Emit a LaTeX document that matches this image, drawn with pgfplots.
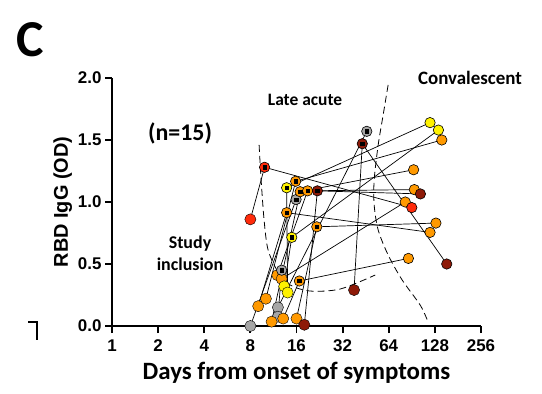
\documentclass[border=0pt]{standalone}
\usepackage{pgfplots}
\pgfplotsset{compat=1.18}
\usepackage{fontspec}
\setmainfont{Carlito}
\newfontfamily\arial{Liberation Sans}
\definecolor{cgrey}{HTML}{A6A6A6}
\definecolor{cyel}{HTML}{FFF200}
\definecolor{corg}{HTML}{FF9900}
\definecolor{cred}{HTML}{FF2B0B}
\definecolor{cdred}{HTML}{8E1A08}
\begin{document}
\begin{tikzpicture}
\useasboundingbox (0,0) rectangle (542bp,394bp);
\begin{axis}[
  at={(112bp,68bp)}, anchor=south west,
  scale only axis, width=369bp, height=248bp,
  xmode=log, log basis x=2, xmin=1, xmax=256, ymin=0, ymax=2,
  axis x line*=bottom, axis y line*=left,
  axis line style={line width=2pt, -},
  xtick={1,2,4,8,16,32,64,128,256}, xticklabels={1,2,4,8,16,32,64,128,256},
  ytick={0,0.5,1,1.5,2}, yticklabels={0.0,0.5,1.0,1.5,2.0},
  xminorticks=false, yminorticks=false,
  tick align=outside, major tick length=7bp, tick style={line width=2pt, black},
  tick label style={font=\arial\bfseries\fontsize{17}{17}\selectfont},
  xticklabel style={yshift=-3bp},
  xlabel={Days from onset of symptoms},
  xlabel style={font=\bfseries\fontsize{25}{25}\selectfont, yshift=-4bp},
  ylabel={RBD IgG (OD)},
  ylabel style={font=\arial\bfseries\fontsize{20}{20}\selectfont, yshift=-1bp},
  clip=false,
]
% dashed region borders
\addplot[black, line width=0.8pt, dash pattern=on 7bp off 4bp, smooth] coordinates {
 (9.12,1.46) (9.40,1.18) (9.83,0.855) (10.44,0.613) (12.13,0.435) (14.53,0.331) (19.63,0.282) (30.8,0.298) (52.2,0.411)};
\addplot[black, line width=0.8pt, dash pattern=on 7bp off 4bp, smooth] coordinates {
 (63.4,1.944) (58.8,1.70) (54.6,1.46) (51.4,1.177) (51.4,0.976) (54.6,0.774) (63.4,0.573) (78.3,0.371) (102.6,0.169) (115.7,0.032)};
% patient trajectories
\addplot[black, line width=0.7pt] coordinates {(8,0.86) (9.9,1.28) (90.5,0.955)};
\addplot[black, line width=0.7pt] coordinates {(38,0.29) (43,1.47) (153,0.50)};
\addplot[black, line width=0.7pt] coordinates {(18,0.01) (21.9,1.09) (103,1.065)};
\addplot[black, line width=0.7pt] coordinates {(8,0.0) (15.9,1.02)};
\addplot[black, line width=0.7pt] coordinates {(12.1,0.075) (12.8,0.45)};
\addplot[black, line width=0.7pt] coordinates {(12.1,0.15) (46,1.57)};
\addplot[black, line width=0.7pt] coordinates {(9.0,0.16) (13.8,0.914) (119,0.755)};
\addplot[black, line width=0.7pt] coordinates {(10.1,0.22) (15.8,1.167) (142,1.50)};
\addplot[black, line width=0.7pt] coordinates {(11.0,0.035) (16.9,1.083) (93,1.26)};
\addplot[black, line width=0.7pt] coordinates {(13.1,0.06) (16.7,0.363) (86,0.545)};
\addplot[black, line width=0.7pt] coordinates {(16.0,0.06) (21.7,0.80) (130,0.83)};
\addplot[black, line width=0.7pt] coordinates {(12.0,0.41) (18.9,1.09) (94,1.10)};
\addplot[black, line width=0.7pt] coordinates {(13.3,0.32) (14.9,0.715) (135,1.58)};
\addplot[black, line width=0.7pt] coordinates {(14.0,0.27) (13.8,1.115) (119,1.64)};
\addplot[black, line width=0.7pt] coordinates {(12.8,0.38) (82,1.00)};
% study inclusion (no outline)
\addplot[only marks, mark=*, mark size=5.6bp, mark options={draw=none, fill=cgrey}] coordinates {(8,0.0) (12.1,0.15) (12.1,0.075)};
\addplot[only marks, mark=*, mark size=5.6bp, mark options={draw=none, fill=corg}] coordinates {(9.0,0.16) (10.1,0.22) (11.0,0.035) (13.1,0.06) (16.0,0.06) (12.0,0.41) (12.8,0.38)};
\addplot[only marks, mark=*, mark size=5.6bp, mark options={draw=none, fill=cyel}] coordinates {(13.3,0.32) (14.0,0.27)};
\addplot[only marks, mark=*, mark size=5.6bp, mark options={draw=none, fill=cred}] coordinates {(8,0.86)};
\addplot[only marks, mark=*, mark size=5.6bp, mark options={draw=none, fill=cdred}] coordinates {(18.0,0.01) (38,0.29)};
% late acute (outline + inner square)
\addplot[only marks, mark=*, mark size=5.2bp, mark options={draw=black, line width=0.6pt, fill=cgrey}] coordinates {(15.9,1.02) (12.8,0.45) (46,1.57)};
\addplot[only marks, mark=*, mark size=5.2bp, mark options={draw=black, line width=0.6pt, fill=corg}] coordinates {(15.8,1.167) (16.9,1.083) (18.9,1.09) (13.8,0.914) (21.7,0.80) (16.7,0.363)};
\addplot[only marks, mark=*, mark size=5.2bp, mark options={draw=black, line width=0.6pt, fill=cyel}] coordinates {(13.8,1.115) (14.9,0.715)};
\addplot[only marks, mark=*, mark size=5.2bp, mark options={draw=black, line width=0.6pt, fill=cred}] coordinates {(9.9,1.28)};
\addplot[only marks, mark=*, mark size=5.2bp, mark options={draw=black, line width=0.6pt, fill=cdred}] coordinates {(21.9,1.09) (43,1.47)};
\addplot[only marks, mark=square*, mark size=1.7bp, mark options={draw=none, fill=black}] coordinates {
 (9.9,1.28) (15.8,1.167) (13.8,1.115) (16.9,1.083) (18.9,1.09) (21.9,1.09) (15.9,1.02) (13.8,0.914) (21.7,0.80) (14.9,0.715) (12.8,0.45) (16.7,0.363) (46,1.57) (43,1.47)};
% convalescent (outline)
\addplot[only marks, mark=*, mark size=5.2bp, mark options={draw=black, line width=0.6pt, fill=corg}] coordinates {(142,1.50) (93,1.26) (94,1.10) (82,1.00) (130,0.83) (119,0.755) (86,0.545)};
\addplot[only marks, mark=*, mark size=5.2bp, mark options={draw=black, line width=0.6pt, fill=cyel}] coordinates {(119,1.64) (135,1.58)};
\addplot[only marks, mark=*, mark size=5.2bp, mark options={draw=black, line width=0.6pt, fill=cdred}] coordinates {(103,1.065) (153,0.50)};
\addplot[only marks, mark=*, mark size=5.2bp, mark options={draw=black, line width=0.6pt, fill=cred}] coordinates {(90.5,0.955)};
\end{axis}
\node[font=\bfseries\fontsize{52}{52}\selectfont] at (30bp,354bp) {C};
\node[font=\bfseries\fontsize{24}{24}\selectfont] at (180bp,261bp) {(n=15)};
\node[font=\bfseries\fontsize{17.5}{17.5}\selectfont] at (305bp,294bp) {Late acute};
\node[font=\bfseries\fontsize{19}{19}\selectfont] at (470bp,316bp) {Convalescent};
\node[font=\bfseries\fontsize{18}{22}\selectfont, align=center] at (190bp,141bp) {Study\\inclusion};
\draw[line width=2pt] (28bp,72bp) -- (37bp,72bp) -- (37bp,54bp);
\end{tikzpicture}
\end{document}
